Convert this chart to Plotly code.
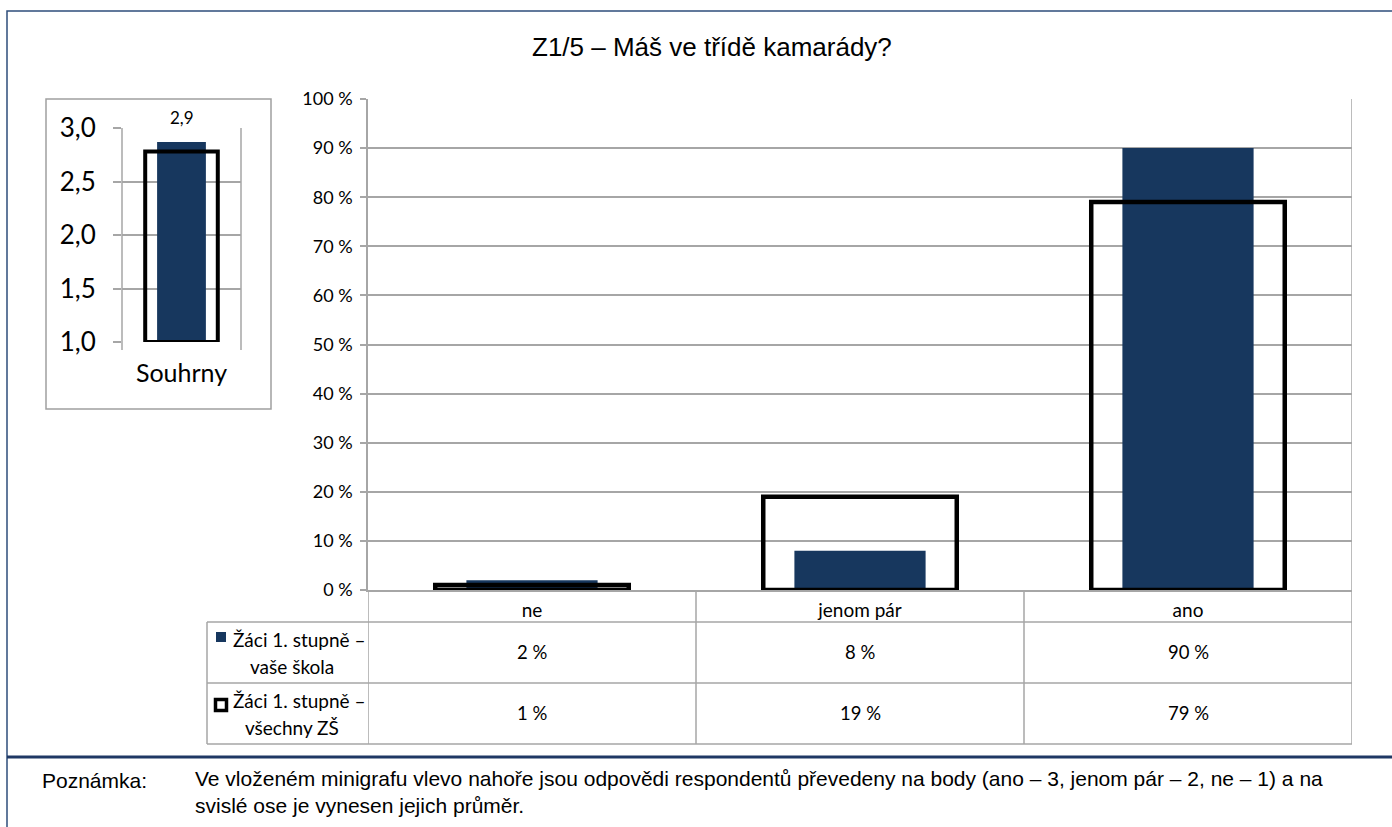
import plotly.graph_objects as go

# Survey answers and shares (%)
categories = ["ne", "jenom pár", "ano"]
school_share = [2, 8, 90]        # Žáci 1. stupně – vaše škola
all_share = [1, 19, 79]          # Žáci 1. stupně – všechny ZŠ
series_names = ["Žáci 1. stupně –<br>vaše škola", "Žáci 1. stupně –<br>všechny ZŠ"]

# Mini chart: mean score (ano = 3, jenom pár = 2, ne = 1)
summary_cat = ["Souhrny"]
school_mean = [2.87]
all_mean = [2.78]

title_text = "Z1/5 – Máš ve třídě kamarády?"
note_label = "Poznámka:"
note_text = ("Ve vloženém minigrafu vlevo nahoře jsou odpovědi respondentů převedeny na body "
             "(ano – 3, jenom pár – 2, ne – 1) a na<br>svislé ose je vynesen jejich průměr.")

W, H = 1392, 827
NAVY = "#17375E"
GRID = "#a6a6a6"
TICK_FONT = "Lato"
ARIAL = "Liberation Sans, Arial"


def px(x):
    return x / W


def py(y):
    return 1 - y / H


fig = go.Figure()

# Main chart bars
fig.add_trace(go.Bar(x=categories, y=school_share, width=0.4, marker=dict(color=NAVY, line=dict(width=0)),
                     xaxis="x", yaxis="y", hoverinfo="x+y"))
fig.add_trace(go.Bar(x=categories, y=all_share, width=0.59,
                     marker=dict(color="rgba(0,0,0,0)", line=dict(color="black", width=4.5)),
                     xaxis="x", yaxis="y", hoverinfo="x+y"))

# Mini chart bars (axis starts at 1, bars rise from 1)
fig.add_trace(go.Bar(x=summary_cat, y=[v - 1 for v in school_mean], base=[1], width=0.41,
                     marker=dict(color=NAVY, line=dict(width=0)), xaxis="x2", yaxis="y2"))
fig.add_trace(go.Bar(x=summary_cat, y=[v - 1 for v in all_mean], base=[1], width=0.61,
                     marker=dict(color="rgba(0,0,0,0)", line=dict(color="black", width=4)),
                     xaxis="x2", yaxis="y2"))

shapes = []
annotations = []

# Outer frame and separator above the note
shapes.append(dict(type="rect", xref="paper", yref="paper", x0=px(7), x1=px(W + 20), y0=py(11), y1=py(H + 20),
                   line=dict(color="#2e4d7b", width=1.5), layer="below"))
shapes.append(dict(type="line", xref="paper", yref="paper", x0=px(7), x1=1, y0=py(757), y1=py(757),
                   line=dict(color="#1f3864", width=3)))

# Mini chart box
shapes.append(dict(type="rect", xref="paper", yref="paper", x0=px(46), x1=px(271), y0=py(99), y1=py(409),
                   line=dict(color="#a0a0a0", width=1.5), layer="below"))
# Mini chart category boundaries
for xd in (0, 1):
    shapes.append(dict(type="line", xref="x2 domain", yref="paper", x0=xd, x1=xd, y0=py(350), y1=py(128),
                       line=dict(color=GRID, width=1.5), layer="below"))

# Main chart right border and data table grid
n = len(categories)
shapes.append(dict(type="line", xref="x", yref="paper", x0=n - 0.5, x1=n - 0.5, y0=py(744), y1=py(99),
                   line=dict(color=GRID, width=1.5), layer="below"))
for i in range(n):
    shapes.append(dict(type="line", xref="x", yref="paper", x0=i - 0.5, x1=i - 0.5, y0=py(744), y1=py(590),
                       line=dict(color=GRID, width=1.5), layer="below"))
for yline in (622, 683, 744):
    shapes.append(dict(type="line", xref="paper", yref="paper", x0=px(207), x1=px(1352), y0=py(yline), y1=py(yline),
                       line=dict(color=GRID, width=1.5), layer="below"))
shapes.append(dict(type="line", xref="paper", yref="paper", x0=px(207), x1=px(207), y0=py(622), y1=py(744),
                   line=dict(color=GRID, width=1.5), layer="below"))

# Legend keys inside the table
shapes.append(dict(type="rect", xref="paper", yref="paper", x0=px(216), x1=px(226), y0=py(642), y1=py(632),
                   fillcolor=NAVY, line=dict(width=0)))
shapes.append(dict(type="rect", xref="paper", yref="paper", x0=px(215.5), x1=px(226.5), y0=py(710.5), y1=py(699.5),
                   fillcolor="white", line=dict(color="black", width=3.5)))

# Table rows: series names and values
row_centers = [652, 713]
for name, vals, yc in zip(series_names, [school_share, all_share], row_centers):
    l1, l2 = name.split("<br>")
    annotations.append(dict(xref="paper", yref="paper", x=px(299), y=py(yc - 13), text=l1, showarrow=False,
                            xanchor="center", yanchor="middle", font=dict(family=TICK_FONT, size=19, color="black")))
    annotations.append(dict(xref="paper", yref="paper", x=px(292), y=py(yc + 14), text=l2, showarrow=False,
                            xanchor="center", yanchor="middle", font=dict(family=TICK_FONT, size=19, color="black")))
    for cat, v in zip(categories, vals):
        annotations.append(dict(xref="x", yref="paper", x=cat, y=py(yc), text=f"{v} %", showarrow=False,
                                xanchor="center", yanchor="middle",
                                font=dict(family=TICK_FONT, size=18.5, color="black")))

# Mini chart value label
for cat, v in zip(summary_cat, school_mean):
    annotations.append(dict(xref="x2", yref="y2", x=cat, y=v, yshift=24, text=f"{v:.1f}".replace(".", ","),
                            showarrow=False, bgcolor="white", borderpad=3,
                            font=dict(family=TICK_FONT, size=17, color="black")))

# Title and note
annotations.append(dict(xref="paper", yref="paper", x=px(712), y=py(47), text=title_text, showarrow=False,
                        xanchor="center", yanchor="middle", font=dict(family=ARIAL, size=26, color="black")))
annotations.append(dict(xref="paper", yref="paper", x=px(40), y=py(780), text=note_label, showarrow=False,
                        xanchor="left", yanchor="middle", font=dict(family=ARIAL, size=21, color="black")))
annotations.append(dict(xref="paper", yref="paper", x=px(193), y=py(792), text=note_text, showarrow=False,
                        xanchor="left", yanchor="middle", align="left",
                        font=dict(family=ARIAL, size=21, color="black")))

fig.update_layout(
    width=W, height=H,
    margin=dict(l=0, r=0, t=0, b=0, autoexpand=False),
    paper_bgcolor="white", plot_bgcolor="white",
    barmode="overlay",
    showlegend=False,
    separators=", ",
    shapes=shapes,
    annotations=annotations,
    xaxis=dict(domain=[px(368), px(1352)], anchor="y", range=[-0.5, n - 0.5], showgrid=False,
               showline=True, linecolor=GRID, linewidth=1.5, ticks="", zeroline=False,
               tickfont=dict(family=TICK_FONT, size=19, color="black"), ticklabelstandoff=2, fixedrange=True),
    yaxis=dict(domain=[py(590), py(99)], anchor="x", range=[0, 100], dtick=10, ticksuffix=" %",
               showgrid=True, gridcolor=GRID, gridwidth=1.5, showline=True, linecolor=GRID, linewidth=1.5,
               ticks="outside", ticklen=6, tickcolor=GRID, tickwidth=1.5, zeroline=False,
               tickfont=dict(family=TICK_FONT, size=18, color="black"), ticklabelstandoff=4, fixedrange=True),
    xaxis2=dict(domain=[px(122), px(241)], anchor="y2", range=[-0.5, 0.5], showgrid=False,
                showline=False, ticks="", zeroline=False,
                tickfont=dict(family=TICK_FONT, size=25, color="black"), ticklabelstandoff=14, fixedrange=True),
    yaxis2=dict(domain=[py(342), py(128)], anchor="x2", range=[1, 3], dtick=0.5, tickformat=".1f",
                showgrid=True, gridcolor=GRID, gridwidth=1.5, showline=False,
                ticks="outside", ticklen=8, tickcolor=GRID, tickwidth=1.5, zeroline=False,
                tickfont=dict(family=TICK_FONT, size=26, color="black"), ticklabelstandoff=12, fixedrange=True),
)

fig.write_html("out.html")
